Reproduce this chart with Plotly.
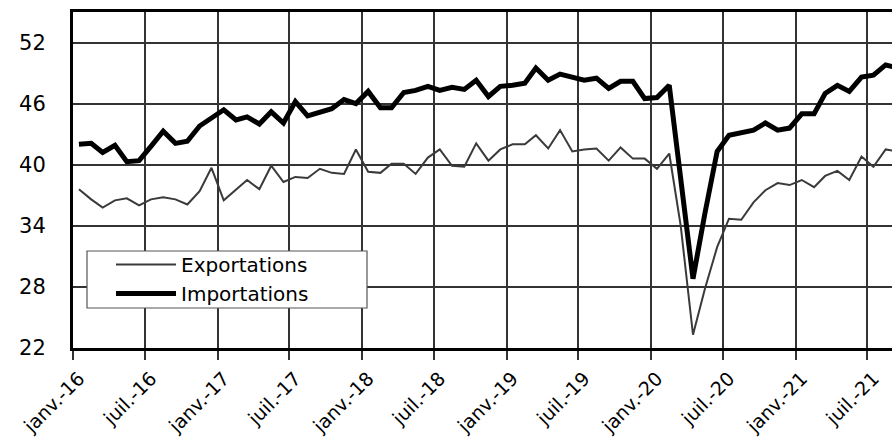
import plotly.graph_objects as go
import pandas as pd

# Monthly values, janv. 2016 -> sept. 2021 (plotted mid-month)
months = pd.date_range("2016-01-01", periods=69, freq="MS") + pd.Timedelta(days=15)

exportations = [
    37.6, 36.6, 35.8, 36.5, 36.7, 36.0, 36.6, 36.8, 36.6, 36.1, 37.4, 39.7,
    36.5, 37.6, 38.5, 37.6, 39.9, 38.3, 38.8, 38.7, 39.6, 39.2, 39.1, 41.5,
    39.3, 39.2, 40.1, 40.1, 39.1, 40.7, 41.5, 39.9, 39.8, 42.1, 40.4, 41.5,
    42.0, 42.0, 42.9, 41.6, 43.4, 41.3, 41.5, 41.6, 40.4, 41.7, 40.6, 40.6,
    39.6, 41.1, 34.0, 23.3, 27.8, 31.9, 34.7, 34.6, 36.3, 37.5, 38.2, 38.0,
    38.5, 37.8, 38.9, 39.4, 38.5, 40.8, 39.8, 41.5, 41.3,
]
importations = [
    42.0, 42.1, 41.2, 41.9, 40.3, 40.4, 41.8, 43.3, 42.1, 42.3, 43.8, 44.6,
    45.4, 44.4, 44.7, 44.0, 45.2, 44.1, 46.2, 44.8, 45.2, 45.5, 46.4, 46.0,
    47.2, 45.6, 45.6, 47.1, 47.3, 47.7, 47.3, 47.6, 47.4, 48.3, 46.7, 47.7,
    47.8, 48.0, 49.5, 48.3, 48.9, 48.6, 48.3, 48.5, 47.5, 48.2, 48.2, 46.5,
    46.6, 47.8, 38.3, 28.8, 35.2, 41.3, 42.9, 43.1, 43.4, 44.1, 43.4, 43.6,
    45.0, 45.0, 47.0, 47.8, 47.2, 48.6, 48.8, 49.8, 49.5,
]

tick_dates = ["2016-01-01", "2016-07-01", "2017-01-01", "2017-07-01",
              "2018-01-01", "2018-07-01", "2019-01-01", "2019-07-01",
              "2020-01-01", "2020-07-01", "2021-01-01", "2021-07-01"]
tick_labels = ["janv.-16", "juil.-16", "janv.-17", "juil.-17",
               "janv.-18", "juil.-18", "janv.-19", "juil.-19",
               "janv.-20", "juil.-20", "janv.-21", "juil.-21"]
y_ticks = [22, 28, 34, 40, 46, 52]

FONT = "DejaVu Sans"

fig = go.Figure()
fig.add_trace(go.Scatter(x=months, y=exportations, mode="lines", name="Exportations",
                         line=dict(color="#3a3a3a", width=2)))
fig.add_trace(go.Scatter(x=months, y=importations, mode="lines", name="Importations",
                         line=dict(color="#000000", width=5)))

L, R, T, B = 73, 0, 12, 93
W, H = 892, 441
pw, ph = W - L - R, H - T - B

def px_x(x):
    return (x - L) / pw

def px_y(y):
    return (H - B - y) / ph

fig.add_shape(type="rect", xref="paper", yref="paper",
              x0=px_x(87), x1=px_x(367), y0=px_y(308), y1=px_y(251),
              fillcolor="white", line=dict(color="#555555", width=1.2), layer="above")

fig.update_layout(
    width=W, height=H,
    margin=dict(l=L, r=R, t=T, b=B, autoexpand=False),
    paper_bgcolor="white", plot_bgcolor="white",
    font=dict(family=FONT, size=21, color="black"),
    showlegend=True,
    legend=dict(x=px_x(111), y=px_y(245), xanchor="left", yanchor="top",
                bgcolor="rgba(0,0,0,0)", borderwidth=0, itemwidth=60,
                font=dict(family=FONT, size=20, color="black")),
    xaxis=dict(range=["2016-01-01", "2021-09-01"], type="date", automargin=False,
               tickvals=tick_dates, ticktext=tick_labels, tickangle=-45,
               showgrid=True, gridcolor="#333333", gridwidth=1.5,
               ticks="outside", ticklen=9, tickwidth=1.5, tickcolor="#333333",
               showline=True, linecolor="black", linewidth=3, mirror=True,
               zeroline=False, ticklabelshift=6, ticklabelstandoff=0,
               tickfont=dict(family=FONT, size=19)),
    yaxis=dict(range=[22, 55], tickvals=y_ticks, automargin=False,
               showgrid=True, gridcolor="#333333", gridwidth=1.5,
               ticks="", showline=True, linecolor="black", linewidth=3,
               zeroline=False, ticklabelstandoff=20,
               tickfont=dict(family=FONT, size=21)),
)

fig.write_html("out.html", config={"displayModeBar": False},
               post_script="document.body.style.margin='0px';document.body.style.overflow='hidden';")
